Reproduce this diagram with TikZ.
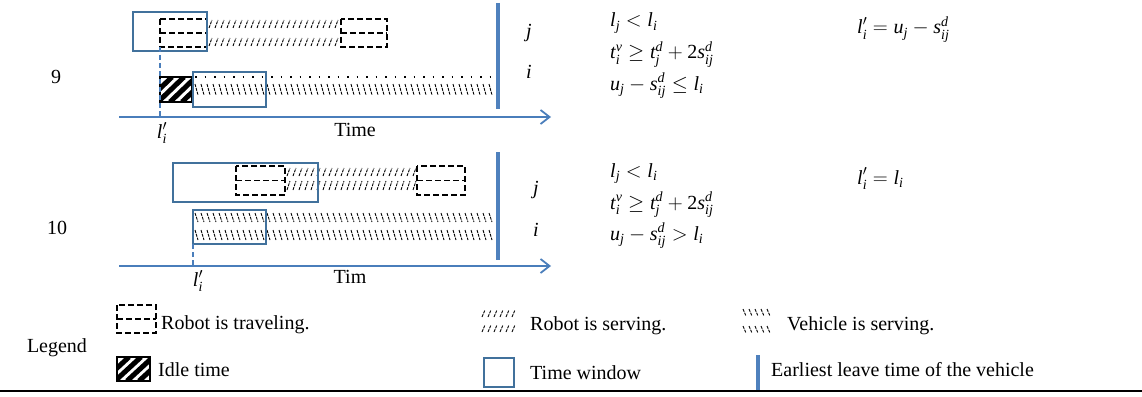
\documentclass[tikz,border=0pt]{standalone}
\usepackage{amsmath}
\usepackage{fontspec}
\setmainfont{Liberation Serif}
\usepackage{xcolor}
\usetikzlibrary{arrows.meta}

\definecolor{winblue}{HTML}{41719C}
\definecolor{axisblue}{HTML}{4A7EBB}
\definecolor{barblue}{HTML}{4F81BD}

\newcommand{\mi}[1]{\textit{#1}}

% robot serving: short / strokes, vehicle serving: short \ strokes
\newcommand{\slashrow}[4]{%
  \pgfmathtruncatemacro{\nst}{(#2-#1-3)/6}
  \foreach \k in {0,...,\nst}
    \draw[hatch] ({#1+6*\k},#4) -- ({#1+6*\k+3},#3);
}
\newcommand{\bslashrow}[4]{%
  \pgfmathtruncatemacro{\nst}{(#2-#1-3)/6}
  \foreach \k in {0,...,\nst}
    \draw[hatch] ({#1+6*\k},#3) -- ({#1+6*\k+3},#4);
}
\newcommand{\travelbox}[4]{%
  \draw[travel] (#1,#2) rectangle (#3,#4);
  \draw[travel] (#1,{(#2+#4)/2}) -- (#3,{(#2+#4)/2});
}
\newcommand{\idlebox}[4]{%
  \begin{scope}
    \clip (#1,#2) rectangle (#3,#4);
    \foreach \d in {-14,-2,10,22}
      \draw[line width=5pt] ({#1+\d},#4) -- ({#1+\d+26},#2);
  \end{scope}
  \draw[line width=1.5pt] (#1,#2) rectangle (#3,#4);
}

\begin{document}
\begin{tikzpicture}[x=1pt,y=-1pt,
    font=\fontsize{20}{24}\selectfont,
    window/.style={draw=winblue, line width=1.6pt},
    travel/.style={line width=1.8pt, dash pattern=on 6pt off 3pt},
    hatch/.style={line width=0.9pt, dash pattern=on 3pt off 1pt},
    leave/.style={barblue, line width=3.5pt},
    axis/.style={axisblue, line width=1.8pt, -{Straight Barb[length=9pt,width=14pt]}},
    lmark/.style={axisblue, line width=1.3pt, dash pattern=on 5pt off 3pt},
    lbl/.style={inner sep=0pt},
    txt/.style={anchor=west, inner sep=0pt}]
  \useasboundingbox (0,0) rectangle (1142,396);

  % case 9
  \node[lbl] (caseA) at (56,77) {9};
  \slashrow{209}{341}{20}{28}
  \slashrow{209}{341}{38}{46}
  \travelbox{160}{19}{207}{47}
  \travelbox{341}{19}{387}{47}
  \draw[window] (133,12) rectangle (207,51);
  \idlebox{160}{77}{192}{102}
  \draw[line width=1.5pt, dash pattern=on 1.5pt off 8pt] (195,77) -- (498,77);
  \bslashrow{195}{496}{84}{95}
  \draw[window] (193,72) rectangle (266,107);
  \draw[leave] (498,3) -- (498,109);
  \coordinate (oA) at (119,117);
  \coordinate (eA) at (551,117);
  \draw[axis] (oA) -- (eA);
  \draw[lmark] (160,47) -- (160,117);
  \node[lbl] (tA) at (355,130) {Time};
  \node[lbl] (lA) at (162,133) {$\mi{l}_{\mi{i}}^{\prime}$};
  \node[lbl] (jA) at (529,33) {\mi{j}};
  \node[lbl] (iA) at (529,72) {\mi{i}};
  \node[txt, anchor=base west] (cA1) at (610,27) {$\mi{l}_{\mi{j}}<\mi{l}_{\mi{i}}$};
  \node[txt, anchor=base west] (cA2) at (610,59)
    {$\mi{t}_{\mi{i}}^{\mi{v}}\ge \mi{t}_{\mi{j}}^{\mi{d}}+\textup{2}\mi{s}_{\mi{ij}}^{\mi{d}}$};
  \node[txt, anchor=base west] (cA3) at (610,90)
    {$\mi{u}_{\mi{j}}-\mi{s}_{\mi{ij}}^{\mi{d}}\le \mi{l}_{\mi{i}}$};
  \node[txt, anchor=base west] (rA) at (857,34)
    {$\mi{l}_{\mi{i}}^{\prime}=\mi{u}_{\mi{j}}-\mi{s}_{\mi{ij}}^{\mi{d}}$};

  % case 10
  \node[lbl] (caseB) at (57,228) {10};
  \slashrow{287}{417}{168}{176}
  \slashrow{287}{417}{181}{190}
  \travelbox{236}{166}{285}{195}
  \travelbox{417}{166}{465}{195}
  \draw[window] (173,163) rectangle (318,202);
  \bslashrow{195}{496}{213}{222}
  \bslashrow{195}{496}{230}{240}
  \draw[window] (193,210) rectangle (266,244);
  \draw[leave] (498,152) -- (498,260);
  \coordinate (oB) at (119,266);
  \coordinate (eB) at (551,266);
  \draw[axis] (oB) -- (eB);
  \draw[lmark] (193,244) -- (193,266);
  \node[lbl] (tB) at (350,277) {Tim};
  \node[lbl] (lB) at (198,281) {$\mi{l}_{\mi{i}}^{\prime}$};
  \node[lbl] (jB) at (536,190) {\mi{j}};
  \node[lbl] (iB) at (536,230) {\mi{i}};
  \node[txt, anchor=base west] (cB1) at (610,177) {$\mi{l}_{\mi{j}}<\mi{l}_{\mi{i}}$};
  \node[txt, anchor=base west] (cB2) at (610,209)
    {$\mi{t}_{\mi{i}}^{\mi{v}}\ge \mi{t}_{\mi{j}}^{\mi{d}}+\textup{2}\mi{s}_{\mi{ij}}^{\mi{d}}$};
  \node[txt, anchor=base west] (cB3) at (610,240)
    {$\mi{u}_{\mi{j}}-\mi{s}_{\mi{ij}}^{\mi{d}}>\mi{l}_{\mi{i}}$};
  \node[txt, anchor=base west] (rB) at (857,184) {$\mi{l}_{\mi{i}}^{\prime}=\mi{l}_{\mi{i}}$};

  % legend
  \node[lbl] (leg) at (57,348) {Legend};
  \travelbox{117}{305}{156}{333}
  \node[txt] (kTravel) at (161,325) {Robot is traveling.};
  \slashrow{482}{518}{310}{317}
  \slashrow{482}{518}{325}{332}
  \node[txt] (kRobot) at (530,326) {Robot is serving.};
  \bslashrow{743}{775}{309}{316}
  \bslashrow{743}{775}{326}{333}
  \node[txt] (kVeh) at (787,326) {Vehicle is serving.};
  \idlebox{117}{357}{150}{381}
  \node[txt] (kIdle) at (158,370) {Idle time};
  \draw[window] (484,358) rectangle (514,387);
  \node[txt] (kWin) at (530,373) {Time window};
  \draw[leave] (758,355) -- (758,390);
  \node[txt] (kLeave) at (771,370) {Earliest leave time of the vehicle};
  \draw[line width=2pt] (0,391) -- (1142,391);
\end{tikzpicture}
\end{document}
